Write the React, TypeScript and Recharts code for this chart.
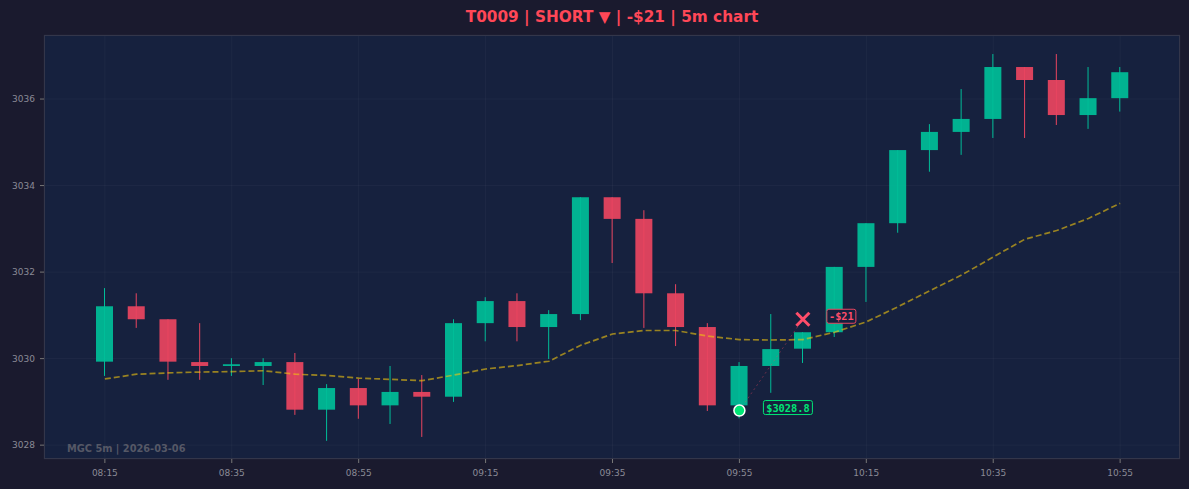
import React from 'react';
import { ComposedChart, Bar, Line, XAxis, YAxis, CartesianGrid, ReferenceDot, ReferenceLine } from 'recharts';

const times = [
  '08:15', '08:20', '08:25', '08:30', '08:35', '08:40', '08:45', '08:50', '08:55', '09:00', '09:05',
  '09:10', '09:15', '09:20', '09:25', '09:30', '09:35', '09:40', '09:45', '09:50', '09:55', '10:00',
  '10:05', '10:10', '10:15', '10:20', '10:25', '10:30', '10:35', '10:40', '10:45', '10:50', '10:55',
];
const opens = [
  3029.93, 3031.21, 3030.91, 3029.92, 3029.83, 3029.83, 3029.92, 3028.82, 3029.32, 3028.92, 3029.23,
  3029.12, 3030.82, 3031.33, 3030.73, 3031.03, 3033.73, 3033.23, 3031.51, 3030.73, 3028.92, 3029.83,
  3030.23, 3030.61, 3032.12, 3033.13, 3034.82, 3035.24, 3035.54, 3036.74, 3036.44, 3035.63, 3036.02,
];
const highs = [
  3031.63, 3031.51, 3030.91, 3030.82, 3030.01, 3030.01, 3030.13, 3029.41, 3029.53, 3029.83, 3029.62,
  3030.91, 3031.42, 3031.51, 3031.12, 3033.73, 3033.73, 3033.43, 3031.72, 3030.82, 3029.92, 3031.03,
  3030.61, 3032.12, 3033.13, 3034.82, 3035.42, 3036.23, 3037.04, 3036.74, 3037.04, 3036.74, 3036.74,
];
const lows = [
  3029.60, 3030.71, 3029.51, 3029.51, 3029.60, 3029.39, 3028.70, 3028.10, 3028.61, 3028.49, 3028.19,
  3029.00, 3030.40, 3030.40, 3029.99, 3030.89, 3032.21, 3030.71, 3030.29, 3028.79, 3028.62, 3029.21,
  3029.90, 3030.50, 3031.31, 3032.91, 3034.32, 3034.71, 3035.10, 3035.10, 3035.40, 3035.31, 3035.71,
];
const closes = [
  3031.21, 3030.91, 3029.93, 3029.83, 3029.87, 3029.92, 3028.82, 3029.32, 3028.92, 3029.23, 3029.12,
  3030.82, 3031.33, 3030.73, 3031.03, 3033.73, 3033.23, 3031.51, 3030.73, 3028.92, 3029.83, 3030.22,
  3030.61, 3032.12, 3033.13, 3034.82, 3035.24, 3035.54, 3036.74, 3036.44, 3035.63, 3036.02, 3036.62,
];
const ema = [
  3029.53, 3029.64, 3029.67, 3029.69, 3029.70, 3029.72, 3029.64, 3029.61, 3029.55, 3029.52, 3029.49,
  3029.62, 3029.76, 3029.84, 3029.94, 3030.31, 3030.57, 3030.65, 3030.65, 3030.52, 3030.44, 3030.43,
  3030.44, 3030.61, 3030.85, 3031.20, 3031.57, 3031.93, 3032.35, 3032.76, 3032.96, 3033.24, 3033.59,
];

const xTicks = ['08:15', '08:35', '08:55', '09:15', '09:35', '09:55', '10:15', '10:35', '10:55'];
const yTicks = [3028, 3030, 3032, 3034, 3036];

const entry = { time: '09:55', price: 3028.8, label: '$3028.8' };
const exit = { time: '10:05', price: 3030.91, label: '-$21' };

const GREEN = '#00bd98';
const RED = '#e94560';

const chartData = times.map((t, i) => ({
  time: t,
  open: opens[i],
  high: highs[i],
  low: lows[i],
  close: closes[i],
  ema: ema[i],
}));

function Candle(props: any) {
  const { x, y, width, height, payload } = props;
  if (x == null || y == null) return null;
  const top = Math.min(y, y + height);
  const h = Math.abs(height);
  const { open, close, high, low } = payload;
  const ppu = h / (high - low);
  const up = close >= open;
  const color = up ? GREEN : RED;
  const bTop = top + (high - Math.max(open, close)) * ppu;
  const bBot = top + (high - Math.min(open, close)) * ppu;
  const cx = x + width / 2;
  return (
    <g>
      <rect x={x} y={bTop} width={width} height={Math.max(1.5, bBot - bTop)} fill={color} fillOpacity={0.93} />
      <line x1={cx} x2={cx} y1={top} y2={top + h} stroke={color} strokeWidth={1} />
    </g>
  );
}

function EntryMark(props: any) {
  const { cx, cy } = props;
  return (
    <g>
      <circle cx={cx} cy={cy} r={5.5} fill="#00e676" stroke="#ffffff" strokeWidth={1.5} />
      <rect x={cx + 24} y={cy - 10} width={49} height={14} rx={2} fill="#16213e" stroke="#00e676" strokeWidth={1} />
      <text x={cx + 48.5} y={cy + 1} textAnchor="middle" fontSize={10.3} fontWeight="bold" fill="#00e676"
        fontFamily="DejaVu Sans Mono">{entry.label}</text>
    </g>
  );
}

function ExitMark(props: any) {
  const { cx, cy } = props;
  const s = 6.5;
  return (
    <g>
      <line x1={cx - s} y1={cy - s} x2={cx + s} y2={cy + s} stroke="#ff4d6a" strokeWidth={3} />
      <line x1={cx - s} y1={cy + s} x2={cx + s} y2={cy - s} stroke="#ff4d6a" strokeWidth={3} />
      <rect x={cx + 24} y={cy - 10} width={29} height={14} rx={2} fill="#16213e" stroke={RED} strokeWidth={1} />
      <text x={cx + 38.5} y={cy + 1} textAnchor="middle" fontSize={10.3} fontWeight="bold" fill="#ff4d6a"
        fontFamily="DejaVu Sans Mono">{exit.label}</text>
    </g>
  );
}

export default function App() {
  return (
    <div style={{ position: 'absolute', top: 0, left: 0, width: 1189, height: 489, background: '#1a1a2e', fontFamily: 'DejaVu Sans' }}>
      <div style={{ position: 'absolute', left: 44, width: 1136, top: 7, lineHeight: '20px', textAlign: 'center', fontSize: 15.3, fontWeight: 'bold', color: '#ff4757' }}>
        T0009 | SHORT ▼ | -$21 | 5m chart
      </div>
      <ComposedChart width={1189} height={489} data={chartData} margin={{ top: 35, right: 9, bottom: 0, left: 0 }}>
        <CartesianGrid fill="#16213e" stroke="#ffffff" strokeOpacity={0.035} />
        <XAxis
          dataKey="time"
          ticks={xTicks}
          interval={0}
          height={30}
          padding={{ left: 45, right: 44 }}
          tick={{ fill: '#8a8a96', fontSize: 9 }}
          tickLine={{ stroke: '#777' }}
          tickSize={4}
          tickMargin={7}
          axisLine={false}
        />
        <YAxis
          type="number"
          domain={[3027.68, 3037.48]}
          ticks={yTicks}
          allowDataOverflow
          width={44}
          tick={{ fill: '#8a8a96', fontSize: 9 }}
          tickLine={{ stroke: '#777' }}
          tickSize={4}
          tickMargin={5}
          axisLine={false}
        />
        <Bar dataKey={(d: any) => [d.low, d.high]} barSize={17} shape={Candle} isAnimationActive={false} />
        <Line
          dataKey="ema"
          type="linear"
          stroke="#f1c40f"
          strokeOpacity={0.6}
          strokeWidth={1.7}
          strokeDasharray="6 3"
          dot={false}
          isAnimationActive={false}
        />
        <ReferenceLine
          segment={[{ x: entry.time, y: entry.price }, { x: exit.time, y: exit.price }]}
          stroke={RED}
          strokeOpacity={0.4}
          strokeDasharray="2 3"
        />
        <ReferenceDot x={entry.time} y={entry.price} r={6} shape={EntryMark} />
        <ReferenceDot x={exit.time} y={exit.price} r={6} shape={ExitMark} />
      </ComposedChart>
      <div style={{ position: 'absolute', left: 44, top: 35, width: 1136, height: 424, border: '1px solid #33364a', boxSizing: 'border-box', pointerEvents: 'none' }} />
      <div style={{ position: 'absolute', left: 67, top: 443, lineHeight: '12px', fontSize: 9.8, fontWeight: 'bold', color: '#555866' }}>
        MGC 5m | 2026-03-06
      </div>
    </div>
  );
}
